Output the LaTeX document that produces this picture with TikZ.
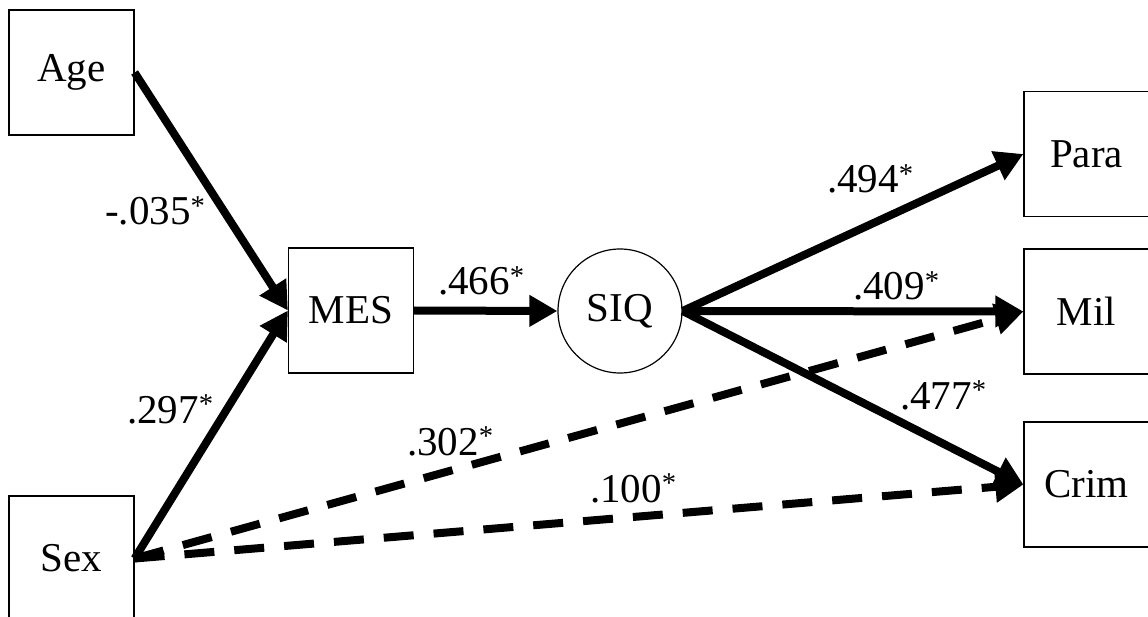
\documentclass[tikz,border=0pt]{standalone}
\usepackage{fontspec}
\setmainfont{Liberation Serif}
\usetikzlibrary{arrows.meta}
\begin{document}
\begin{tikzpicture}[x=1pt,y=-1pt,
  every node/.style={font=\fontsize{41}{48}\selectfont},
  var/.style={draw,line width=1.2pt,minimum width=125pt,minimum height=125pt,inner sep=0pt},
  latent/.style={draw,circle,line width=1.2pt,minimum size=124pt,inner sep=0pt},
  coef/.style={anchor=base west,inner sep=0pt},
  effect/.style={line width=8pt,-{Triangle[length=28pt,width=30pt]}},
  effectdash/.style={effect,dash pattern=on 30pt off 20pt}]
\useasboundingbox (0,0) rectangle (1148,617);

% observed and latent variables
\node[var] (age) at (71.5,72.5) {Age};
\node[var] (sex) at (71.5,558.5) {Sex};
\node[var] (mes) at (351,310.5) {MES};
\node[latent] (siq) at (620,311) {SIQ};
\node[var] (para) at (1086.5,154) {Para};
\node[var] (mil) at (1086.5,311.5) {Mil};
\node[var] (crim) at (1086.5,484.5) {Crim};

% paths
\draw[effect] (age.east) -- (mes.west);
\draw[effect] (sex.east) -- (mes.west);
\draw[effect] (mes.east) -- (siq.west);
\draw[effect] (siq.east) -- (para.west);
\draw[effect] (siq.east) -- (mil.west);
\draw[effect] (siq.east) -- (crim.west);
\draw[effectdash] (sex.east) -- (mil.west);
\draw[effectdash] (sex.east) -- (crim.west);

% path coefficients
\node[coef] (c1) at (105,225) {-.035\textsuperscript{*}};
\node[coef] (c2) at (127,423) {.297\textsuperscript{*}};
\node[coef] (c3) at (438,295) {.466\textsuperscript{*}};
\node[coef] (c4) at (827,193) {.494\textsuperscript{*}};
\node[coef] (c5) at (853,300) {.409\textsuperscript{*}};
\node[coef] (c6) at (900,409) {.477\textsuperscript{*}};
\node[coef] (c7) at (407,455) {.302\textsuperscript{*}};
\node[coef] (c8) at (590,502) {.100\textsuperscript{*}};
\end{tikzpicture}
\end{document}
